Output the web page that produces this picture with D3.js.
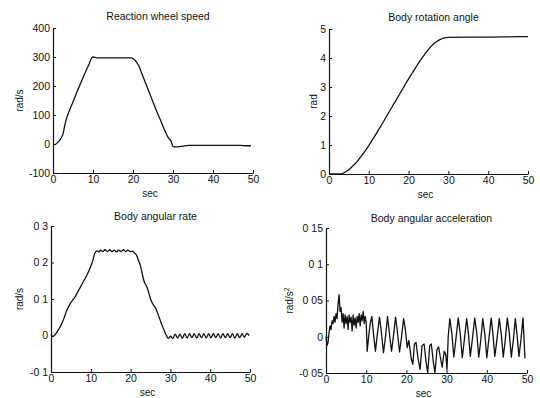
<!DOCTYPE html>
<html>
<head>
<meta charset="utf-8">
<script src="https://cdn.jsdelivr.net/npm/d3@7/dist/d3.min.js"></script>
<style>
  body { margin: 0; background: #fff; }
  text { font-family: "Liberation Sans", Arial, sans-serif; fill: #111; }
</style>
</head>
<body>
<script>
// time axis shared by all four plots
var secTicks = [0, 10, 20, 30, 40, 50];

// Reaction wheel speed [sec, rad/s]
var wheelSpeed = [
  [0, 0], [0.5, -2], [1, 3], [1.5, 10], [2, 20], [2.5, 35], [3, 68], [3.5, 93],
  [4, 112], [5, 145], [6, 180], [7, 212], [8, 245], [9, 275], [9.7, 297], [10, 300],
  [11, 297], [15, 297], [19.5, 297], [20, 295], [20.5, 289], [21, 280], [21.5, 268],
  [22, 250], [23, 215], [24, 180], [25, 145], [26, 110], [27, 78], [28, 45],
  [28.8, 22], [29.5, 10], [30, -8], [31, -10], [32, -8], [34, -5], [40, -5],
  [47, -5], [48, -6], [49.5, -6]
];
var wheelTicks = [-100, 0, 100, 200, 300, 400];
var wheelTickLabels = ["-100", "0", "100", "200", "300", "400"];

// Body rotation angle [sec, rad]
var rotAngle = [
  [0, 0], [3, 0], [4, 0.06], [5, 0.15], [6, 0.28], [7, 0.42], [8, 0.6], [9, 0.78],
  [10, 0.98], [11, 1.2], [12, 1.42], [13, 1.65], [14, 1.88], [15, 2.12], [16, 2.35],
  [17, 2.58], [18, 2.82], [19, 3.05], [20, 3.28], [21, 3.5], [22, 3.72], [23, 3.93],
  [24, 4.12], [25, 4.3], [26, 4.45], [27, 4.56], [28, 4.64], [29, 4.69], [30, 4.71],
  [35, 4.72], [40, 4.72], [45, 4.73], [50, 4.74]
];
var angleTicks = [0, 1, 2, 3, 4, 5];
var angleTickLabels = ["0", "1", "2", "3", "4", "5"];

// Body angular rate [sec, rad/s]
var angRate = [
  [0, 0], [0.5, -0.003], [1, 0.002], [2, 0.018], [3, 0.04], [4, 0.07], [5, 0.09],
  [6, 0.105], [7, 0.125], [8, 0.145], [9, 0.165], [10, 0.19], [10.5, 0.205],
  [11, 0.225], [11.5, 0.232], [12, 0.229], [12.5, 0.234], [13, 0.23], [13.6, 0.235],
  [14.2, 0.23], [14.8, 0.235], [15.3, 0.23], [15.9, 0.234], [16.5, 0.229],
  [17, 0.234], [17.6, 0.23], [18.2, 0.235], [18.8, 0.23], [19.3, 0.234],
  [19.9, 0.23], [20.5, 0.231], [21, 0.226], [21.5, 0.22], [22, 0.205], [22.5, 0.19],
  [23, 0.165], [23.5, 0.145], [24, 0.135], [24.5, 0.12], [25, 0.1], [25.5, 0.088],
  [26, 0.08], [26.5, 0.07], [27, 0.055], [27.5, 0.04], [28, 0.025], [28.5, 0.012],
  [29, 0.0], [29.5, -0.008], [30, -0.002], [30.6, -0.008], [31.2, 0.004],
  [31.8, -0.007], [32.4, 0.004], [33, -0.008], [33.6, 0.005], [34.2, -0.007],
  [34.8, 0.005], [35.4, -0.006], [36, 0.005], [36.6, -0.007], [37.2, 0.005],
  [37.8, -0.006], [38.4, 0.005], [39, -0.007], [39.6, 0.005], [40.2, -0.006],
  [40.8, 0.005], [41.4, -0.006], [42, 0.005], [42.6, -0.007], [43.2, 0.005],
  [43.8, -0.006], [44.4, 0.005], [45, -0.006], [45.6, 0.005], [46.2, -0.007],
  [46.8, 0.005], [47.4, -0.006], [48, 0.005], [48.6, -0.005], [49.2, 0.006],
  [49.8, 0.0]
];
var rateTicks = [-0.1, 0, 0.1, 0.2, 0.3];
var rateTickLabels = ["-0 1", "0", "0 1", "0 2", "0 3"];

// Body angular acceleration [sec, rad/s^2]
var angAccel = [
  [0, 0.0], [0.25, -0.012], [0.5, -0.008], [0.75, 0.005], [1, 0.015], [1.25, 0.01],
  [1.5, 0.022], [1.75, 0.018], [2, 0.028], [2.25, 0.02], [2.5, 0.032], [2.75, 0.025],
  [3, 0.045], [3.25, 0.058], [3.5, 0.035], [3.75, 0.04], [4, 0.02], [4.25, 0.032],
  [4.5, 0.012], [4.75, 0.03], [5, 0.018], [5.25, 0.028], [5.5, 0.01], [5.75, 0.03],
  [6, 0.02], [6.25, 0.027], [6.5, 0.008], [6.75, 0.03], [7, 0.016], [7.25, 0.026],
  [7.5, 0.012], [7.75, 0.028], [8, 0.02], [8.25, 0.032], [8.5, 0.015], [8.75, 0.03],
  [9, 0.022], [9.25, 0.035], [9.5, 0.018], [9.75, 0.028], [10, 0.02], [10.25, -0.02],
  [10.6, 0.0], [11, 0.018], [11.4, 0.028], [11.8, 0.005], [12.3, -0.02], [12.8, 0.005],
  [13.3, 0.027], [13.7, 0.01], [14.3, -0.022], [14.8, 0.0], [15.3, 0.028], [15.7, 0.008],
  [16.3, -0.02], [16.8, 0.002], [17.3, 0.027], [17.7, 0.01], [18.3, -0.021], [18.8, 0.0],
  [19.3, 0.025], [19.7, 0.012], [20.2, -0.015], [20.6, -0.005], [21.2, -0.03],
  [21.6, -0.038], [22, -0.01], [22.4, -0.008], [22.9, -0.03], [23.4, -0.045],
  [23.9, -0.012], [24.4, -0.01], [24.9, -0.035], [25.3, -0.05], [25.8, -0.012],
  [26.2, -0.01], [26.7, -0.035], [27.1, -0.05], [27.6, -0.018], [28, -0.014],
  [28.5, -0.03], [28.9, -0.042], [29.4, -0.02], [29.8, -0.025], [30.1, -0.045],
  [30.4, 0.0], [30.8, 0.025], [31.3, 0.005], [31.8, -0.028], [32.3, -0.004],
  [32.9, 0.026], [33.4, 0.004], [33.9, -0.029], [34.4, -0.005], [35, 0.025],
  [35.4, 0.006], [35.9, -0.027], [36.4, -0.004], [37, 0.026], [37.5, 0.005],
  [38, -0.028], [38.5, -0.005], [39, 0.025], [39.5, 0.004], [40, -0.029],
  [40.5, -0.004], [41.1, 0.026], [41.5, 0.005], [42, -0.027], [42.5, -0.005],
  [43.1, 0.025], [43.6, 0.004], [44.1, -0.028], [44.6, -0.004], [45.1, 0.026],
  [45.6, 0.005], [46.1, -0.028], [46.6, -0.005], [47.1, 0.025], [47.5, 0.004],
  [48, -0.027], [48.5, -0.004], [49, 0.026], [49.5, -0.03]
];
var accelTicks = [-0.05, 0, 0.05, 0.1, 0.15];
var accelTickLabels = ["-0 05", "0", "0 05", "0 1", "0 15"];

var W = 540, H = 398;

var svg = d3.select("body").append("svg")
  .attr("width", W)
  .attr("height", H);

function panel(p) {
  var x = d3.scaleLinear().domain([0, 50]).range([p.left, p.right]);
  var y = d3.scaleLinear().domain(p.domain).range([p.bottom, p.top]);

  var g = svg.append("g");

  var xAxis = d3.axisBottom(x)
    .tickValues(secTicks)
    .tickFormat(function(d) { return String(d); })
    .tickSize(-3).tickSizeOuter(0).tickPadding(3);
  var yAxis = d3.axisLeft(y)
    .tickValues(p.ticks)
    .tickFormat(function(d, i) { return p.labels[i]; })
    .tickSize(-3).tickSizeOuter(0).tickPadding(3);

  var gx = g.append("g")
    .attr("transform", "translate(0," + p.bottom + ")")
    .call(xAxis);
  var gy = g.append("g")
    .attr("transform", "translate(" + p.left + ",0)")
    .call(yAxis);

  [gx, gy].forEach(function(a) {
    a.attr("font-family", null).attr("font-size", 10.5);
    a.select(".domain").attr("stroke", "#111").attr("stroke-width", 1.2);
    a.selectAll(".tick line").attr("stroke", "#111");
  });

  g.append("path")
    .datum(p.data)
    .attr("fill", "none")
    .attr("stroke", "#111")
    .attr("stroke-width", 1.3)
    .attr("stroke-linejoin", "round")
    .attr("d", d3.line()
      .x(function(d) { return x(d[0]); })
      .y(function(d) { return y(d[1]); })
      .curve(p.curve));

  g.append("text")
    .attr("x", (p.left + p.right) / 2 + 5)
    .attr("y", p.titleY)
    .attr("text-anchor", "middle")
    .attr("font-size", 10.5)
    .text(p.title);

  g.append("text")
    .attr("x", (p.left + p.right) / 2 - 3)
    .attr("y", p.bottom + 24)
    .attr("text-anchor", "middle")
    .attr("font-size", 10)
    .text("sec");

  var yl = g.append("text")
    .attr("transform", "translate(" + p.ylabX + "," + (p.top + p.bottom) / 2 + ") rotate(-90)")
    .attr("text-anchor", "middle")
    .attr("font-size", 10)
    .text(p.ylabel);
  if (p.ysup) {
    yl.append("tspan").attr("dy", -4).attr("font-size", 7).text(p.ysup);
  }
}

panel({
  title: "Reaction wheel speed", titleY: 20, ylabel: "rad/s", ylabX: 23,
  left: 53, right: 253, top: 28, bottom: 173,
  domain: [-100, 400], ticks: wheelTicks, labels: wheelTickLabels,
  data: wheelSpeed, curve: d3.curveMonotoneX
});
panel({
  title: "Body rotation angle", titleY: 21, ylabel: "rad", ylabX: 317,
  left: 329, right: 528, top: 29, bottom: 174,
  domain: [0, 5], ticks: angleTicks, labels: angleTickLabels,
  data: rotAngle, curve: d3.curveMonotoneX
});
panel({
  title: "Body angular rate", titleY: 220, ylabel: "rad/s", ylabX: 23,
  left: 51, right: 250, top: 226, bottom: 372,
  domain: [-0.1, 0.3], ticks: rateTicks, labels: rateTickLabels,
  data: angRate, curve: d3.curveMonotoneX
});
panel({
  title: "Body angular acceleration", titleY: 222, ylabel: "rad/s", ysup: "2", ylabX: 293,
  left: 326, right: 527, top: 228, bottom: 373,
  domain: [-0.05, 0.15], ticks: accelTicks, labels: accelTickLabels,
  data: angAccel, curve: d3.curveLinear
});
</script>
</body>
</html>
